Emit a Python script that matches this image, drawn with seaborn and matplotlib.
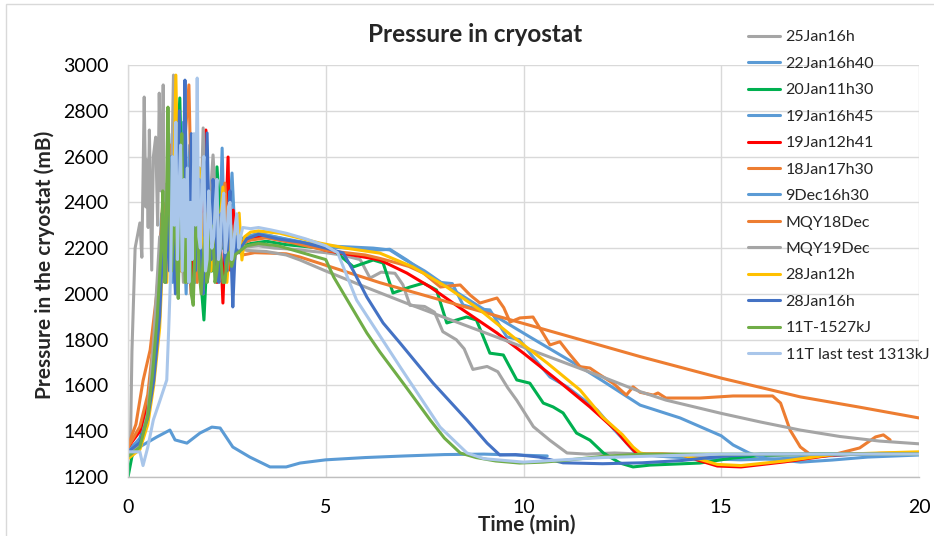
import matplotlib
matplotlib.use("Agg")
import matplotlib.pyplot as plt
import seaborn as sns
from matplotlib.patches import Rectangle

# ---------------- data (time in min, pressure in mB) ----------------
t_25jan = [0, 0.06, 0.1, 0.18, 0.3, 0.35, 0.38, 0.41, 0.45, 0.48,
           0.51, 0.54, 0.6, 0.64, 0.7, 0.75, 0.79, 0.83, 0.86, 0.89,
           0.93, 0.98, 1.05, 1.12, 1.2, 1.3, 1.4, 1.5, 1.6, 1.7,
           1.8, 1.9, 2.0, 2.1, 2.2, 2.35, 2.5, 2.65, 2.8, 3.0,
           3.3, 3.7, 4.2, 4.7, 5.0, 5.4, 5.87, 6.12, 6.4, 6.75,
           6.95, 7.13, 7.5, 7.75, 7.96, 8.3, 8.5, 8.72, 9.08, 9.35,
           9.6, 9.83, 10.25, 10.67, 11.1, 11.6, 12.3, 13.0, 13.5, 14.5,
           15.5, 16.5, 17.5, 18.5, 20]
p_25jan = [1300, 1320, 1750, 2200, 2310, 2160, 2500, 2860, 2380, 2585,
           2290, 2716, 2104, 2598, 2685, 2300, 2877, 2450, 2616, 2913,
           2235, 2480, 2150, 2620, 2300, 2540, 2120, 2400, 2180, 2450,
           2150, 2330, 2100, 2280, 2160, 2250, 2180, 2230, 2200, 2205,
           2210, 2200, 2195, 2185, 2180, 2170, 2150, 2069, 2095, 2090,
           2040, 1950, 1945, 1920, 1835, 1800, 1760, 1670, 1683, 1660,
           1590, 1535, 1420, 1360, 1305, 1300, 1305, 1300, 1290, 1285,
           1290, 1295, 1300, 1300, 1300]

t_22jan = [0, 0.3, 0.5, 0.65, 0.78, 0.88, 0.97, 1.05, 1.13, 1.22,
           1.3, 1.4, 1.5, 1.6, 1.7, 1.8, 1.9, 2.0, 2.1, 2.2,
           2.3, 2.38, 2.45, 2.55, 2.63, 2.72, 2.85, 3.0, 3.3, 3.7,
           4.2, 5.0, 5.6, 6.2, 6.62, 7.05, 7.64, 7.9, 8.2, 8.47,
           8.8, 9.15, 9.58, 9.9, 10.24, 10.67, 11.1, 11.86, 12.3, 12.6,
           12.85, 13.5, 14.5, 15.5, 16.5, 17.5, 18.5, 20]
p_22jan = [1310, 1370, 1480, 1700, 2000, 2300, 2150, 2600, 2050, 2480,
           2200, 2750, 2100, 2400, 2050, 2550, 2200, 2350, 2100, 2300,
           2150, 2637, 2150, 2300, 2528, 2200, 2240, 2250, 2265, 2250,
           2230, 2205, 2200, 2190, 2195, 2148, 2074, 2050, 2045, 1952,
           1935, 1930, 1812, 1800, 1724, 1637, 1594, 1493, 1405, 1350,
           1300, 1290, 1280, 1275, 1280, 1290, 1300, 1300]

t_20jan = [0, 0.1, 0.3, 0.5, 0.65, 0.78, 0.88, 0.96, 1.05, 1.14,
           1.22, 1.31, 1.4, 1.5, 1.6, 1.7, 1.8, 1.92, 2.02, 2.12,
           2.25, 2.38, 2.5, 2.62, 2.75, 2.9, 3.1, 3.5, 4.0, 4.6,
           5.19, 5.7, 6.2, 6.45, 6.7, 7.13, 7.47, 7.8, 8.06, 8.56,
           8.81, 9.15, 9.49, 9.83, 10.16, 10.5, 10.75, 11.0, 11.34, 11.68,
           12.02, 12.44, 12.77, 13.2, 14.46, 15.3, 16.15, 17.5, 20]
p_20jan = [1200, 1290, 1360, 1470, 1650, 1950, 2400, 2150, 2650, 2200,
           2500, 2856, 2150, 2450, 2050, 2300, 2150, 1886, 2250, 2100,
           2555, 2200, 2350, 2150, 2250, 2210, 2220, 2230, 2215, 2205,
           2192, 2118, 2148, 2135, 2004, 2030, 2047, 2017, 1873, 1899,
           1886, 1741, 1733, 1624, 1610, 1523, 1506, 1480, 1392, 1361,
           1305, 1261, 1244, 1252, 1261, 1283, 1296, 1300, 1300]

t_19jan_b = [0, 0.3, 0.5, 0.62, 0.75, 0.85, 0.95, 1.03, 1.12, 1.2,
             1.28, 1.37, 1.47, 1.56, 1.66, 1.76, 1.86, 1.96, 2.07, 2.17,
             2.28, 2.4, 2.52, 2.65, 2.8, 3.0, 3.4, 4.0, 4.6, 5.0,
             5.6, 6.2, 6.62, 7.0, 7.5, 8.0, 8.47, 8.9, 10.16, 11.43,
             12.0, 12.95, 13.96, 15.0, 15.3, 15.7, 16.15, 17.0, 17.8, 18.7,
             20]
p_19jan_b = [1320, 1360, 1450, 1620, 1950, 2350, 2100, 2700, 2250, 2850,
             2150, 2500, 2000, 2650, 2200, 2450, 2050, 2350, 2150, 2400,
             2100, 2300, 2180, 2260, 2220, 2240, 2260, 2240, 2220, 2210,
             2205, 2200, 2192, 2150, 2100, 2040, 1990, 1943, 1812, 1682,
             1620, 1514, 1458, 1380, 1340, 1305, 1280, 1265, 1274, 1287,
             1296]

t_19jan_a = [0, 0.3, 0.5, 0.65, 0.8, 0.9, 1.0, 1.1, 1.2, 1.3,
             1.4, 1.5, 1.6, 1.7, 1.8, 1.9, 1.97, 2.05, 2.15, 2.25,
             2.33, 2.4, 2.47, 2.53, 2.58, 2.66, 2.75, 2.85, 3.0, 3.4,
             4.0, 4.6, 5.0, 6.0, 6.37, 7.05, 7.64, 8.47, 9.33, 10.0,
             10.85, 11.68, 12.36, 12.6, 12.85, 13.0, 13.5, 14.0, 14.4, 14.9,
             15.5, 16.6, 17.8, 19.0, 20]
p_19jan_a = [1330, 1400, 1520, 1750, 2050, 2350, 2150, 2500, 2050, 2650,
             2150, 2400, 2000, 2550, 2100, 2300, 2716, 2200, 2350, 2050,
             2250, 1960, 2300, 2598, 2104, 2366, 2180, 2220, 2240, 2250,
             2230, 2215, 2190, 2160, 2148, 2091, 2030, 1930, 1829, 1741,
             1624, 1506, 1400, 1350, 1305, 1300, 1300, 1298, 1274, 1248,
             1244, 1266, 1296, 1303, 1305]

t_18jan = [0, 0.3, 0.5, 0.65, 0.78, 0.88, 0.98, 1.07, 1.16, 1.25,
           1.35, 1.45, 1.54, 1.63, 1.72, 1.82, 1.92, 2.02, 2.15, 2.25,
           2.35, 2.45, 2.55, 2.65, 2.78, 2.9, 3.1, 3.5, 4.0, 4.5,
           5.0, 6.0, 6.37, 6.8, 7.1, 7.47, 7.9, 8.15, 8.4, 8.65,
           8.9, 9.33, 9.5, 9.66, 9.91, 10.24, 10.45, 10.67, 10.92, 11.15,
           11.43, 11.68, 11.9, 12.27, 12.6, 12.77, 12.95, 13.28, 13.4, 13.6,
           14.46, 15.3, 16.3, 16.5, 16.74, 17.0, 17.24, 17.8, 18.5, 18.9,
           19.1, 19.27]
p_18jan = [1330, 1420, 1560, 1800, 2100, 2400, 2200, 2650, 2250, 2500,
           2100, 2700, 2913, 2200, 2450, 2100, 2350, 2150, 2511, 2200,
           2300, 2484, 2150, 2250, 2180, 2220, 2235, 2245, 2230, 2210,
           2190, 2170, 2155, 2135, 2120, 2091, 2030, 2035, 2039, 1995,
           1960, 1982, 1940, 1877, 1895, 1899, 1840, 1777, 1791, 1740,
           1682, 1676, 1650, 1609, 1558, 1594, 1570, 1558, 1567, 1545,
           1545, 1554, 1554, 1523, 1405, 1331, 1300, 1296, 1327, 1375,
           1384, 1362]

t_9dec = [0, 0.05, 0.38, 0.73, 1.06, 1.19, 1.49, 1.82, 2.12, 2.33,
          2.65, 3.08, 3.59, 4.0, 4.35, 5.0, 6.0, 7.0, 8.0, 9.0,
          10.0, 10.6]
p_9dec = [1300, 1305, 1340, 1375, 1405, 1362, 1348, 1392, 1418, 1414,
          1331, 1287, 1244, 1244, 1261, 1275, 1285, 1292, 1298, 1300,
          1295, 1292]

t_mqy18 = [0, 0.1, 0.2, 0.38, 0.56, 0.72, 0.86, 0.95, 1.05, 1.15,
           1.25, 1.35, 1.45, 1.55, 1.65, 1.75, 1.85, 1.95, 2.05, 2.2,
           2.35, 2.5, 2.7, 2.9, 3.2, 3.6, 4.0, 4.35, 5.0, 6.37,
           9.4, 12.95, 15.0, 17.0, 18.5, 20]
p_mqy18 = [1330, 1383, 1430, 1620, 1755, 1990, 2279, 2150, 2550, 2250,
           2700, 2100, 2450, 2200, 2650, 2050, 2300, 2150, 2400, 2200,
           2280, 2160, 2200, 2170, 2180, 2178, 2175, 2161, 2125, 2049,
           1900, 1726, 1632, 1550, 1505, 1458]

t_mqy19 = [0, 0.3, 0.5, 0.65, 0.8, 0.9, 1.0, 1.08, 1.15, 1.22,
           1.3, 1.4, 1.5, 1.6, 1.7, 1.8, 1.9, 2.0, 2.15, 2.3,
           2.45, 2.6, 2.8, 3.0, 3.5, 4.0, 4.35, 5.0, 6.0, 7.0,
           8.0, 9.0, 10.0, 11.0, 12.0, 12.95, 13.6, 15.0, 16.0, 17.0,
           18.0, 19.0, 20]
p_mqy19 = [1300, 1340, 1480, 1800, 2250, 2100, 2500, 2300, 2956, 2250,
           2500, 2050, 2350, 2150, 2480, 2100, 2725, 2200, 2607, 2150,
           2300, 2180, 2200, 2190, 2185, 2170, 2148, 2100, 2030, 1962,
           1897, 1832, 1767, 1702, 1637, 1573, 1536, 1478, 1440, 1405,
           1377, 1357, 1345]

t_28jan_a = [0, 0.3, 0.5, 0.65, 0.8, 0.9, 0.98, 1.06, 1.13, 1.21,
             1.3, 1.4, 1.5, 1.6, 1.7, 1.8, 1.9, 2.0, 2.1, 2.2,
             2.3, 2.4, 2.5, 2.6, 2.7, 2.81, 2.88, 2.95, 3.1, 3.3,
             3.84, 4.85, 5.5, 6.37, 7.2, 8.06, 8.9, 9.74, 10.6, 11.43,
             12.0, 12.5, 12.77, 12.95, 13.1, 13.5, 14.0, 14.4, 14.9, 15.5,
             16.6, 17.8, 19.0, 20]
p_28jan_a = [1280, 1320, 1430, 1600, 1850, 2250, 2050, 2500, 2200, 2956,
             2100, 2600, 2050, 2450, 2150, 2550, 2000, 2350, 2100, 2400,
             2250, 2467, 2050, 2300, 2150, 2353, 2148, 2250, 2270, 2275,
             2265, 2222, 2200, 2178, 2118, 2030, 1930, 1812, 1698, 1580,
             1462, 1385, 1331, 1305, 1300, 1300, 1295, 1280, 1255, 1250,
             1270, 1298, 1305, 1310]

t_28jan_b = [0, 0.3, 0.5, 0.65, 0.8,
             0.9, 0.95, 1.0, 1.05, 1.1, 1.15, 1.2, 1.25, 1.3, 1.34,
             1.37, 1.41, 1.44, 1.48, 1.52, 1.56, 1.6, 1.65, 1.7, 1.75,
             1.8, 1.85, 1.9, 1.95, 2.0, 2.05, 2.1, 2.15, 2.2, 2.25,
             2.3, 2.35, 2.4, 2.45, 2.5, 2.54, 2.58, 2.62, 2.65, 2.7,
             2.75, 2.8, 2.85,
             3.0, 3.3, 3.8, 4.4, 5.0, 5.44, 5.7, 6.04, 6.45, 6.88,
             7.71, 8.57, 9.08, 9.4, 9.8, 10.4, 11.0, 12.0, 13.0, 14.0,
             15.0, 16.0, 18.0, 20]
p_28jan_b = [1310, 1350, 1460, 1620, 1900,
             2300, 2050, 2450, 2100, 2600, 2200, 2000, 2400, 2800, 2300,
             2150, 2600, 2934, 2400, 2050, 2300, 2700, 2250, 2100, 2450,
             2500, 2050, 2000, 2350, 2703, 2300, 2150, 2500, 2400, 2100,
             2050, 2350, 2300, 2150, 2100, 2350, 2450, 2100, 1943, 2150,
             2250, 2180, 2200,
             2240, 2260, 2240, 2225, 2200, 2179, 2100, 1986, 1873, 1785,
             1611, 1449, 1348, 1296, 1298, 1287, 1262, 1258, 1262, 1272,
             1290, 1300, 1300, 1300]

t_11t_a = [0, 0.3, 0.5, 0.62, 0.74,
           0.84, 0.88, 0.93, 0.97, 1.01, 1.05, 1.1, 1.14, 1.18, 1.23,
           1.27, 1.32, 1.36, 1.41, 1.45, 1.5, 1.55, 1.6, 1.65, 1.7,
           1.75, 1.8, 1.85, 1.9, 1.95, 2.0, 2.05, 2.1, 2.15, 2.2,
           2.25, 2.3, 2.35, 2.4, 2.45, 2.5, 2.55, 2.62, 2.7,
           2.85, 3.0, 3.3, 3.8, 4.4, 5.0, 5.2, 6.04, 6.37, 7.0,
           7.64, 8.0, 8.4, 8.8, 9.3, 9.9, 10.5, 11.0, 12.0, 13.0,
           15.0, 17.0, 20]
p_11t_a = [1290, 1330, 1470, 1650, 1900,
           2200, 2450, 2050, 2300, 2816, 2350, 2100, 2250, 2500, 2150,
           1980, 2400, 2700, 2200, 2050, 2300, 2400, 2000, 1950, 2250,
           2350, 2100, 2000, 2150, 2250, 2050, 2100, 2300, 2250, 2050,
           2100, 2200, 2150, 2050, 2050, 2150, 2180, 2120, 2170,
           2190, 2210, 2220, 2210, 2180, 2150, 2074, 1829, 1746, 1600,
           1449, 1370, 1305, 1285, 1270, 1261, 1265, 1272, 1290, 1300,
           1300, 1300, 1300]

t_11t_b = [0, 0.3, 0.38, 0.5, 0.64, 0.8,
           0.98, 1.03, 1.08, 1.12, 1.17, 1.21, 1.25, 1.29, 1.33, 1.37,
           1.42, 1.46, 1.5, 1.54, 1.58, 1.62, 1.67, 1.71, 1.75, 1.79,
           1.83, 1.87, 1.92, 1.96, 2.0, 2.04, 2.08, 2.12, 2.17, 2.21,
           2.25, 2.29, 2.33, 2.37, 2.42, 2.46, 2.5, 2.54, 2.58, 2.62,
           2.67, 2.71, 2.75, 2.8, 2.85, 2.9,
           3.1, 3.3, 3.6, 4.0, 4.5, 5.0, 5.3, 5.78, 6.88, 7.89,
           8.57, 9.0, 10.0, 11.0, 12.0, 13.0, 14.0, 15.0, 17.0, 20]
p_11t_b = [1310, 1310, 1250, 1330, 1449, 1530,
           1624, 1850, 2100, 2600, 2300, 2750, 2150, 2450, 2650, 2100,
           2500, 2250, 2550, 2050, 2400, 2150, 2700, 2300, 2943, 2250,
           2200, 2500, 2600, 2100, 2150, 2450, 2350, 2200, 2250, 2400,
           2500, 2150, 2200, 2350, 2440, 2180, 2250, 2380, 2400, 2150,
           2205, 2300, 2350, 2200, 2250, 2290,
           2285, 2290, 2280, 2265, 2240, 2210, 2180, 1973, 1681, 1418,
           1305, 1280, 1265, 1275, 1285, 1290, 1295, 1300, 1300, 1300]

series_names = ["25Jan16h", "22Jan16h40", "20Jan11h30", "19Jan16h45", "19Jan12h41",
                "18Jan17h30", "9Dec16h30", "MQY18Dec", "MQY19Dec", "28Jan12h",
                "28Jan16h", "11T-1527kJ", "11T last test 1313kJ"]
series_t = [t_25jan, t_22jan, t_20jan, t_19jan_b, t_19jan_a, t_18jan, t_9dec,
            t_mqy18, t_mqy19, t_28jan_a, t_28jan_b, t_11t_a, t_11t_b]
series_p = [p_25jan, p_22jan, p_20jan, p_19jan_b, p_19jan_a, p_18jan, p_9dec,
            p_mqy18, p_mqy19, p_28jan_a, p_28jan_b, p_11t_a, p_11t_b]
series_colors = ["#A5A5A5", "#5B9BD5", "#00B050", "#5B9BD5", "#FF0000",
                 "#ED7D31", "#5B9BD5", "#ED7D31", "#A5A5A5", "#FFC000",
                 "#4472C4", "#70AD47", "#A9C6EA"]

x_ticks = [0, 5, 10, 15, 20]
y_ticks = [1200, 1400, 1600, 1800, 2000, 2200, 2400, 2600, 2800, 3000]

# ---------------- plot ----------------
sns.set_theme(style="white")
plt.rcParams["font.family"] = ["Lato", "DejaVu Sans"]

W, H = 934, 536
fig = plt.figure(figsize=(W / 100, H / 100), dpi=100)
fig.patch.set_facecolor("white")
ax = fig.add_axes([128 / W, 1 - 477 / H, (919 - 128) / W, (477 - 65) / H])

for name, t, p, c in zip(series_names, series_t, series_p, series_colors):
    sns.lineplot(x=t, y=p, ax=ax, color=c, linewidth=2.2, sort=False,
                 estimator=None, label=name)
for ln in ax.get_lines():
    ln.set_solid_joinstyle("round")
    ln.set_solid_capstyle("round")
handles, labels = ax.get_legend_handles_labels()
if ax.get_legend() is not None:
    ax.get_legend().remove()

ax.set_xlim(0, 20)
ax.set_ylim(1200, 3000)
ax.set_xticks(x_ticks)
ax.set_yticks(y_ticks)
ax.set_xlabel("")
ax.set_ylabel("")
ax.set_axisbelow(True)
ax.grid(True, color="#D9D9D9", linewidth=1)
for s in ["top", "right"]:
    ax.spines[s].set_visible(False)
ax.spines["left"].set_color("#D9D9D9")
ax.spines["bottom"].set_color("#BFBFBF")
ax.spines["left"].set_linewidth(1)
ax.spines["bottom"].set_linewidth(1)
ax.tick_params(axis="both", length=0, labelsize=14, colors="black")
ax.tick_params(axis="y", pad=14)
ax.tick_params(axis="x", pad=16)

fig.text(475 / W, 1 - 34 / H, "Pressure in cryostat", ha="center", va="center",
         fontsize=17.5, fontweight="bold")
fig.text(527 / W, 1 - 525 / H, "Time (min)", ha="center", va="center",
         fontsize=15, fontweight="bold")
fig.text(45 / W, 1 - 265 / H, "Pressure in the cryostat (mB)", ha="center",
         va="center", rotation=90, fontsize=15, fontweight="bold")

fig.legend(handles, labels, loc="upper left", bbox_to_anchor=(748 / W, 1 - 30 / H),
           frameon=False, fontsize=11.5, handlelength=2.0, handletextpad=0.35,
           labelspacing=0.77, borderaxespad=0, borderpad=0)

fig.add_artist(Rectangle((6 / W, -0.05), 1.2, 1 - 4 / H + 0.05,
                         transform=fig.transFigure, fill=False,
                         edgecolor="#D9D9D9", linewidth=1))

fig.savefig("out.png", dpi=100, facecolor="white")
